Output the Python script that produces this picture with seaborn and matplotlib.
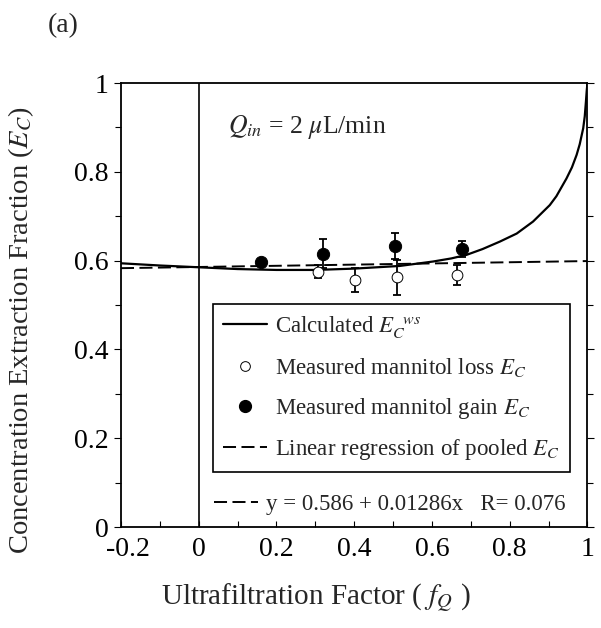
import matplotlib
matplotlib.use("Agg")
import matplotlib.pyplot as plt
import matplotlib.transforms as mtransforms
import seaborn as sns
import pandas as pd
from matplotlib.lines import Line2D
from matplotlib.ticker import MultipleLocator

# calculated E_C^ws curve
calc_x = [-0.2, -0.1, 0.0, 0.1, 0.2, 0.3, 0.4, 0.517, 0.603, 0.65, 0.689, 0.73,
          0.775, 0.818, 0.86, 0.903, 0.92, 0.946, 0.96, 0.972, 0.98, 0.989,
          0.993, 0.996, 0.998, 1.0]
calc_y = [0.594, 0.589, 0.585, 0.581, 0.579, 0.579, 0.582, 0.588, 0.598, 0.605,
          0.613, 0.626, 0.643, 0.661, 0.688, 0.725, 0.745, 0.785, 0.81, 0.838,
          0.862, 0.898, 0.925, 0.958, 0.982, 1.0]

# pooled linear regression y = 0.586 + 0.01286x
reg_x = [-0.2, 1.0]
reg_y = [0.583, 0.599]

# measured mannitol loss (open)
loss_x = [0.307, 0.403, 0.509, 0.665]
loss_y = [0.575, 0.556, 0.562, 0.568]
loss_err = [0.015, 0.027, 0.04, 0.023]

# measured mannitol gain (filled)
gain_x = [0.159, 0.32, 0.504, 0.677]
gain_y = [0.596, 0.616, 0.633, 0.626]
gain_err = [0.0, 0.033, 0.03, 0.018]

sns.set_style("ticks")
plt.rcParams['font.family'] = ['Liberation Serif', 'DejaVu Serif']
plt.rcParams['mathtext.fontset'] = 'stix'

fig = plt.figure(figsize=(6.01, 6.28), dpi=100)
ax = fig.add_axes([0.2013, 0.1608, 0.7762, 0.707])

calc_df = pd.DataFrame({'x': calc_x, 'y': calc_y})
reg_df = pd.DataFrame({'x': reg_x, 'y': reg_y})
loss_df = pd.DataFrame({'x': loss_x, 'y': loss_y})
gain_df = pd.DataFrame({'x': gain_x, 'y': gain_y})

dash = (0, (6.7, 2.8))

ax.axvline(0, color='black', lw=1.2, zorder=1)

sns.lineplot(data=calc_df, x='x', y='y', ax=ax, color='black', lw=1.6,
             sort=False, estimator=None)
sns.lineplot(data=reg_df, x='x', y='y', ax=ax, color='black', lw=1.4,
             linestyle=dash, estimator=None)

ax.errorbar(loss_x, loss_y, yerr=loss_err, fmt='none', ecolor='black',
            elinewidth=1.3, capsize=3.2, capthick=1.3)
ax.errorbar(gain_x, gain_y, yerr=gain_err, fmt='none', ecolor='black',
            elinewidth=1.3, capsize=3.2, capthick=1.3)
sns.scatterplot(data=loss_df, x='x', y='y', ax=ax, marker='o', s=60,
                facecolor='white', edgecolor='black', linewidth=0.7, zorder=5)
sns.scatterplot(data=gain_df, x='x', y='y', ax=ax, marker='o', s=78,
                color='black', edgecolor='black', zorder=5)

ax.set_xlim(-0.2, 1.0)
ax.set_ylim(0, 1.0)
ax.xaxis.set_minor_locator(MultipleLocator(0.1))
ax.yaxis.set_minor_locator(MultipleLocator(0.1))
ax.set_xticks([-0.2, 0, 0.2, 0.4, 0.6, 0.8, 1.0])
ax.set_xticklabels(['-0.2', '0', '0.2', '0.4', '0.6', '0.8', '1'])
ax.set_yticks([0, 0.2, 0.4, 0.6, 0.8, 1.0])
ax.set_yticklabels(['0', '0.2', '0.4', '0.6', '0.8', '1'])
ax.tick_params(which='both', right=True, top=False, labelsize=20,
               width=0.8, colors='black')
ax.tick_params(axis='y', which='both', direction='out', pad=4)
ax.tick_params(axis='y', which='major', length=5)
ax.tick_params(axis='y', which='minor', length=4)
ax.tick_params(axis='x', which='both', direction='in', length=4, pad=7)
for sp in ax.spines.values():
    sp.set_linewidth(1.3)
    sp.set_color('black')

# nudge the "-0.2" label a little right, as in the original
first = ax.get_xticklabels()[0]
first.set_transform(first.get_transform() +
                    mtransforms.ScaledTranslation(5 / 72, 0, fig.dpi_scale_trans))

ax.set_xlabel('Ultrafiltration Factor ( $f_Q$ )', fontsize=21)
ax.xaxis.set_label_coords(0.418, -0.123)
ax.set_ylabel('Concentration Extraction Fraction ($E_C$)', fontsize=20.5)
ax.yaxis.set_label_coords(-0.183, 0.444)

ax.text(0.23, 0.9, '$Q_{in}$ = 2 $\\mu$L/min', transform=ax.transAxes,
        fontsize=18.5, va='center')
fig.text(0.08, 0.96, '(a)', fontsize=20, va='center')

handles = [
    Line2D([], [], color='black', lw=1.6),
    Line2D([], [], ls='none', marker='o', markersize=7, mfc='white',
           mec='black', mew=0.7),
    Line2D([], [], ls='none', marker='o', markersize=8.5, color='black'),
    Line2D([], [], color='black', lw=1.4, linestyle=dash),
]
labels = [
    'Calculated $E_C^{\\ \\ ws}$',
    'Measured mannitol loss $E_C$',
    'Measured mannitol gain $E_C$',
    'Linear regression of pooled $E_C$',
]
leg = ax.legend(handles, labels, loc='upper left', bbox_to_anchor=(0.197, 0.502),
                borderaxespad=0, fontsize=16.5, frameon=True, fancybox=False,
                edgecolor='black', framealpha=1, handlelength=1.9,
                handletextpad=0.35, labelspacing=0.7, borderpad=0.45)
leg.get_frame().set_linewidth(1.2)
ax.add_artist(leg)

leg2 = ax.legend([Line2D([], [], color='black', lw=1.4, linestyle=dash)],
                 ['y = 0.586 + 0.01286x   R= 0.076'], loc='center left',
                 bbox_to_anchor=(0.2, 0.05), borderaxespad=0, borderpad=0,
                 fontsize=16.5, frameon=False, handlelength=1.9,
                 handletextpad=0.35)

fig.savefig('out.png', dpi=100)
